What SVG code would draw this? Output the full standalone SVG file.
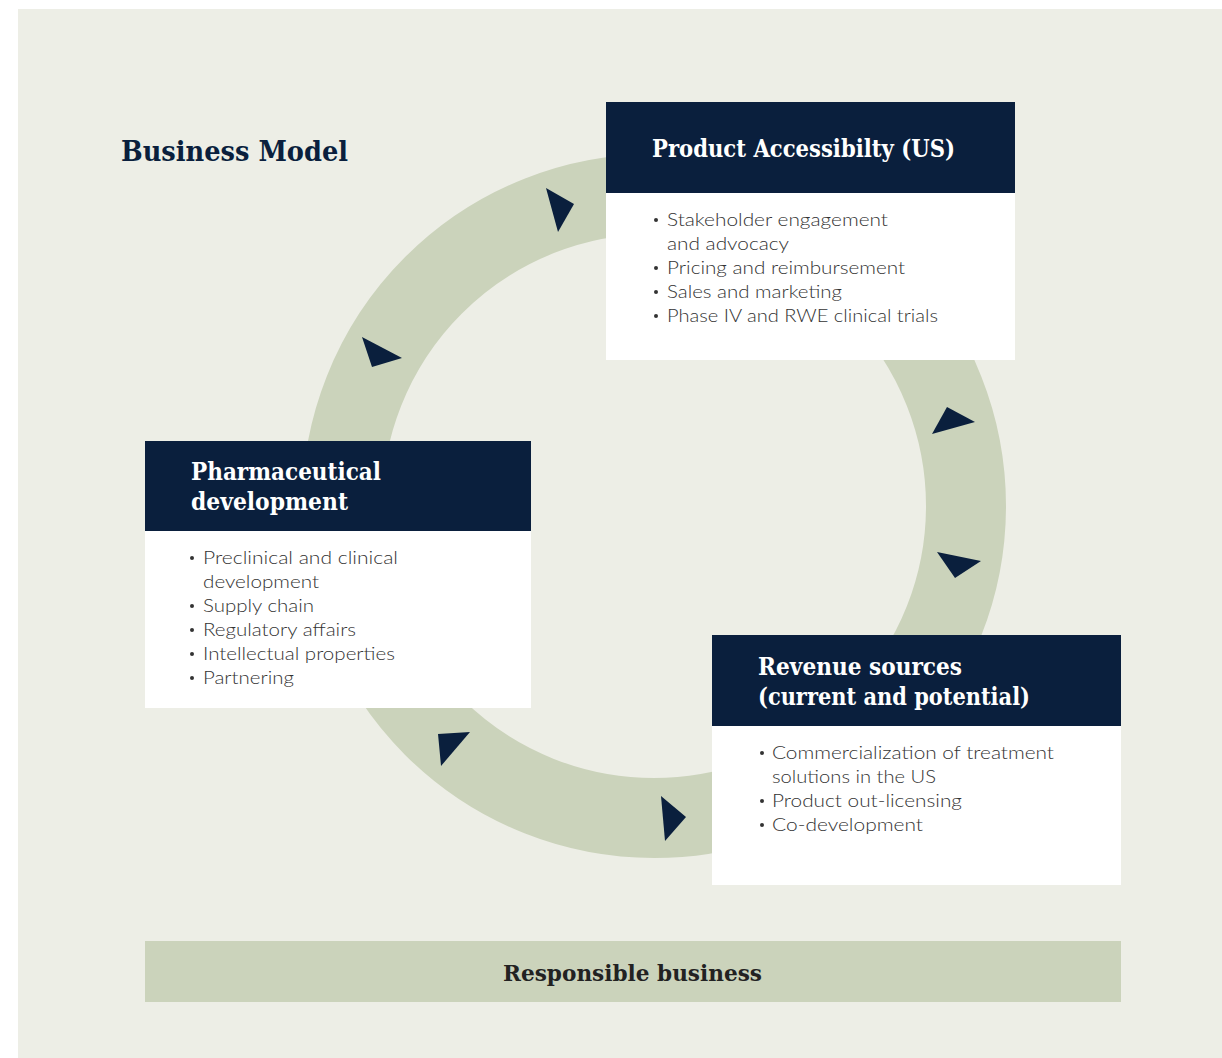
<svg xmlns="http://www.w3.org/2000/svg" width="1222" height="1058" viewBox="0 0 1222 1058">
  <style>
    .panel { fill: #EDEEE6; }
    .ring { fill: none; stroke: #CBD3BB; stroke-width: 80; }
    .head { fill: #0A1F3D; }
    .body { fill: #FFFFFF; }
    .arrow { fill: #0A1F3D; }
    .title { font-family: "DejaVu Serif", "Liberation Serif", serif; font-weight: bold; fill: #FFFFFF; font-size: 24px; }
    .main { font-family: "DejaVu Serif", "Liberation Serif", serif; font-weight: bold; fill: #0A1F3D; font-size: 27px; }
    .item { font-family: "Lato", "Open Sans", "Liberation Sans", sans-serif; font-weight: 300; fill: #333333; font-size: 18px; }
    .dot { fill: #333333; }
    .bar { fill: #CBD3BB; }
    .bartext { font-family: "DejaVu Serif", "Liberation Serif", serif; font-weight: bold; fill: #222222; font-size: 22px; }
  </style>

  <!-- backdrop -->
  <rect x="0" y="0" width="1222" height="1058" fill="#FFFFFF"/>
  <rect class="panel" x="18" y="9" width="1204" height="1049"/>

  <text class="main" x="121" y="161" textLength="227" lengthAdjust="spacingAndGlyphs">Business Model</text>

  <!-- cycle ring and direction arrows -->
  <g id="connectors">
    <circle class="ring" cx="654" cy="506" r="312"/>
    <polygon class="arrow" points="546,188 574,204 558,232"/>
    <polygon class="arrow" points="362,337 402,358 372,367"/>
    <polygon class="arrow" points="947,407 975,422 932,434"/>
    <polygon class="arrow" points="937,552 981,561 955,578"/>
    <polygon class="arrow" points="438,734 470,732 441,766"/>
    <polygon class="arrow" points="661,796 686,817 665,841"/>
  </g>

  <!-- Product accessibility -->
  <g id="node-product-accessibility">
    <rect class="head" x="606" y="102" width="409" height="91"/>
    <rect class="body" x="606" y="193" width="409" height="167"/>
    <text class="title" x="652" y="157" textLength="303" lengthAdjust="spacingAndGlyphs">Product Accessibilty (US)</text>
    <circle class="dot" cx="656" cy="220" r="2"/>
    <text class="item" x="667" y="226" textLength="221" lengthAdjust="spacingAndGlyphs">Stakeholder engagement</text>
    <text class="item" x="667" y="250" textLength="122" lengthAdjust="spacingAndGlyphs">and advocacy</text>
    <circle class="dot" cx="656" cy="268" r="2"/>
    <text class="item" x="667" y="274" textLength="238" lengthAdjust="spacingAndGlyphs">Pricing and reimbursement</text>
    <circle class="dot" cx="656" cy="292" r="2"/>
    <text class="item" x="667" y="298" textLength="175" lengthAdjust="spacingAndGlyphs">Sales and marketing</text>
    <circle class="dot" cx="656" cy="316" r="2"/>
    <text class="item" x="667" y="322" textLength="271" lengthAdjust="spacingAndGlyphs">Phase IV and RWE clinical trials</text>
  </g>

  <!-- Pharmaceutical development -->
  <g id="node-pharmaceutical-development">
    <rect class="head" x="145" y="441" width="386" height="90"/>
    <rect class="body" x="145" y="531" width="386" height="177"/>
    <text class="title" x="191" y="480" textLength="190" lengthAdjust="spacingAndGlyphs">Pharmaceutical</text>
    <text class="title" x="191" y="510" textLength="157" lengthAdjust="spacingAndGlyphs">development</text>
    <circle class="dot" cx="192" cy="558" r="2"/>
    <text class="item" x="203" y="564" textLength="195" lengthAdjust="spacingAndGlyphs">Preclinical and clinical</text>
    <text class="item" x="203" y="588" textLength="116" lengthAdjust="spacingAndGlyphs">development</text>
    <circle class="dot" cx="192" cy="606" r="2"/>
    <text class="item" x="203" y="612" textLength="111" lengthAdjust="spacingAndGlyphs">Supply chain</text>
    <circle class="dot" cx="192" cy="630" r="2"/>
    <text class="item" x="203" y="636" textLength="153" lengthAdjust="spacingAndGlyphs">Regulatory affairs</text>
    <circle class="dot" cx="192" cy="654" r="2"/>
    <text class="item" x="203" y="660" textLength="192" lengthAdjust="spacingAndGlyphs">Intellectual properties</text>
    <circle class="dot" cx="192" cy="678" r="2"/>
    <text class="item" x="203" y="684" textLength="91" lengthAdjust="spacingAndGlyphs">Partnering</text>
  </g>

  <!-- Revenue sources -->
  <g id="node-revenue-sources">
    <rect class="head" x="712" y="635" width="409" height="91"/>
    <rect class="body" x="712" y="726" width="409" height="159"/>
    <text class="title" x="758" y="675" textLength="204" lengthAdjust="spacingAndGlyphs">Revenue sources</text>
    <text class="title" x="758" y="705" textLength="272" lengthAdjust="spacingAndGlyphs">(current and potential)</text>
    <circle class="dot" cx="762" cy="753" r="2"/>
    <text class="item" x="772" y="759" textLength="282" lengthAdjust="spacingAndGlyphs">Commercialization of treatment</text>
    <text class="item" x="772" y="783" textLength="164" lengthAdjust="spacingAndGlyphs">solutions in the US</text>
    <circle class="dot" cx="762" cy="801" r="2"/>
    <text class="item" x="772" y="807" textLength="190" lengthAdjust="spacingAndGlyphs">Product out-licensing</text>
    <circle class="dot" cx="762" cy="825" r="2"/>
    <text class="item" x="772" y="831" textLength="151" lengthAdjust="spacingAndGlyphs">Co-development</text>
  </g>

  <!-- Foundation bar -->
  <g id="node-responsible-business">
    <rect class="bar" x="145" y="941" width="976" height="61"/>
    <text class="bartext" x="503" y="981" textLength="259" lengthAdjust="spacingAndGlyphs">Responsible business</text>
  </g>
</svg>
